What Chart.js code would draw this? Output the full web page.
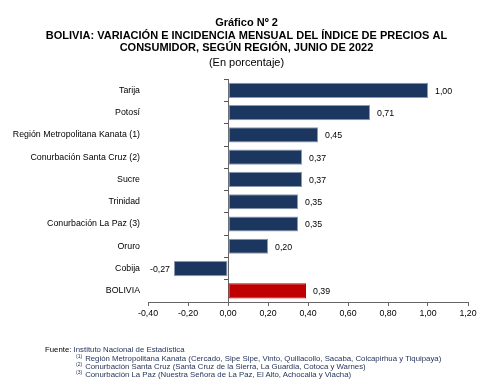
<!DOCTYPE html>
<html><head><meta charset="utf-8">
<script src="https://cdn.jsdelivr.net/npm/chart.js@4/dist/chart.umd.min.js"></script>
<style>
html,body{margin:0;padding:0;background:#fff;}
#wrap{position:relative;width:493px;height:389px;}
#notes{position:absolute;left:45px;top:346px;font-family:"Liberation Sans",Arial,sans-serif;font-size:7.8px;color:#1f2f55;}
#notes div{position:absolute;left:0;white-space:nowrap;line-height:8px;}
#notes .src{color:#000;}
#notes .n{left:31px;}
#notes sup{font-size:5px;line-height:0;vertical-align:3px;margin-right:3px;}
</style></head>
<body>
<div id="wrap">
<canvas id="c" width="493" height="389"></canvas>
<div id="notes">
<div style="top:0px"><span class="src">Fuente:</span> Instituto Nacional de Estadística</div>
<div class="n" style="top:9px"><sup>(1)</sup>Región Metropolitana Kanata (Cercado, Sipe Sipe, Vinto, Quillacollo, Sacaba, Colcapirhua y Tiquipaya)</div>
<div class="n" style="top:17px"><sup>(2)</sup>Conurbación Santa Cruz (Santa Cruz de la Sierra, La Guardia, Cotoca y Warnes)</div>
<div class="n" style="top:24.5px"><sup>(3)</sup>Conurbación La Paz (Nuestra Señora de La Paz, El Alto, Achocalla y Viacha)</div>
</div>
</div>
<script>
const categories = ["Tarija","Potosí","Región Metropolitana Kanata (1)","Conurbación Santa Cruz (2)","Sucre","Trinidad","Conurbación La Paz (3)","Oruro","Cobija","BOLIVIA"];
const values = [1.00,0.71,0.45,0.37,0.37,0.35,0.35,0.20,-0.27,0.39];
const xTicks = {min:-0.4, max:1.2, step:0.2};
const titleLines = ["Gráfico Nº 2","BOLIVIA: VARIACIÓN E INCIDENCIA MENSUAL DEL ÍNDICE DE PRECIOS AL","CONSUMIDOR, SEGÚN REGIÓN, JUNIO DE 2022"];
const subtitleText = "(En porcentaje)";

const FONT = "'Liberation Sans', Arial, sans-serif";
const fmt = v => v.toFixed(2).replace('.', ',');
const navy = '#1b365f', red = '#c00000';

const labelPlugin = {
  id: 'valLabels',
  afterDatasetsDraw(chart) {
    const ctx = chart.ctx;
    const meta = chart.getDatasetMeta(0);
    ctx.save();
    ctx.font = "8.8px " + FONT;
    ctx.fillStyle = '#000';
    ctx.textBaseline = 'middle';
    meta.data.forEach((el, i) => {
      const v = values[i];
      if (v >= 0) { ctx.textAlign = 'left'; ctx.fillText(fmt(v), el.x + 7, el.y + 1); }
      else { ctx.textAlign = 'right'; ctx.fillText(fmt(v), el.x - 4, el.y + 1); }
    });
    ctx.restore();
  }
};

new Chart(document.getElementById('c'), {
  type: 'bar',
  data: {
    labels: categories,
    datasets: [{
      data: values,
      backgroundColor: categories.map(c => c === 'BOLIVIA' ? red : navy),
      borderColor: categories.map(c => c === 'BOLIVIA' ? red : '#8a99b2'),
      borderWidth: 1,
      borderSkipped: false,
      categoryPercentage: 1,
      barPercentage: 0.68
    }]
  },
  options: {
    indexAxis: 'y',
    responsive: false,
    animation: false,
    devicePixelRatio: 1,
    layout: { padding: { left: 0, right: 0, bottom: 67, top: 0 } },
    plugins: {
      legend: { display: false },
      tooltip: { enabled: false },
      title: {
        display: true, text: titleLines, color: '#000',
        font: { family: FONT, size: 11, weight: 'bold', lineHeight: 1.14 },
        padding: { top: 17, bottom: 2 }
      },
      subtitle: {
        display: true, text: subtitleText, color: '#000',
        font: { family: FONT, size: 11, lineHeight: 1.14 },
        padding: { top: 0, bottom: 10 }
      }
    },
    scales: {
      x: {
        min: xTicks.min, max: xTicks.max,
        ticks: { stepSize: xTicks.step, callback: v => fmt(v), color: '#000', font: { family: FONT, size: 8.8 }, padding: 2, maxRotation: 0 },
        grid: { drawOnChartArea: false, drawTicks: true, tickLength: 4, color: '#666' },
        border: { color: '#666' },
        afterFit: s => { s.height = 20; }
      },
      y: {
        position: 'left',
        ticks: { color: '#000', font: { family: FONT, size: 8.8 }, padding: 8 },
        grid: { display: false, drawTicks: false },
        border: { display: false },
        afterFit: s => { s.width = 148; }
      },
      y2: {
        type: 'category', axis: 'y', labels: categories,
        position: { x: 0 }, offset: true,
        ticks: { display: false },
        grid: { offset: true, drawOnChartArea: false, drawTicks: true, tickLength: 4, color: '#555' },
        border: { color: '#666' },
        afterFit: s => { s.width = 0; }
      },
      yRight: {
        type: 'category', axis: 'y', labels: categories, position: 'right',
        ticks: { display: false },
        grid: { display: false, drawTicks: false },
        border: { display: false },
        afterFit: s => { s.width = 25; }
      }
    }
  },
  plugins: [labelPlugin]
});
</script>
</body></html>
